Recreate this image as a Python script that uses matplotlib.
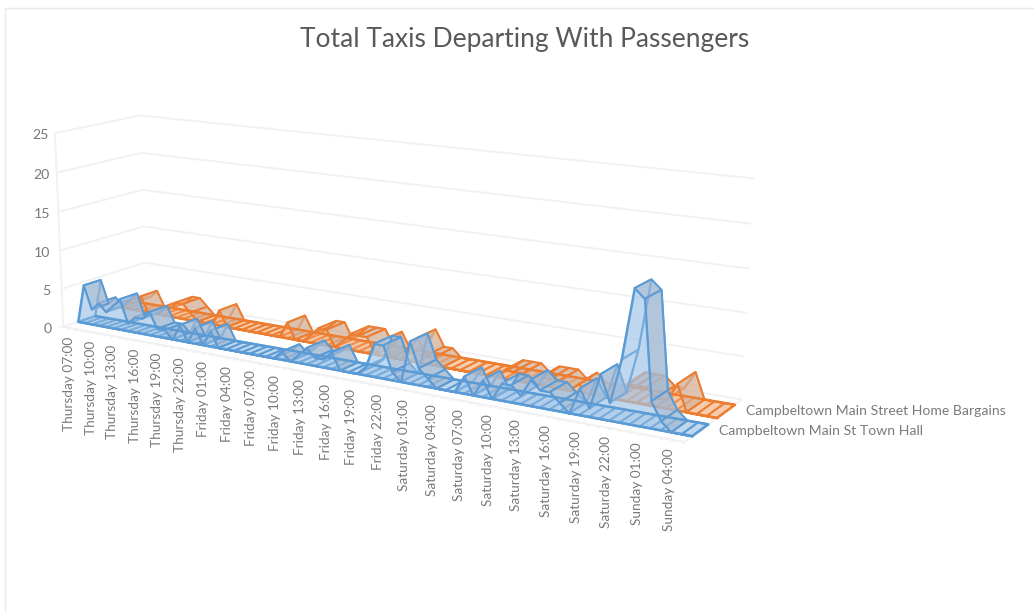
import numpy as np
import matplotlib
matplotlib.use("Agg")
import matplotlib.pyplot as plt
from matplotlib.patches import Rectangle
from mpl_toolkits.mplot3d.art3d import Poly3DCollection, Line3DCollection

TITLE = "Total Taxis Departing With Passengers"
SERIES_FRONT = "Campbeltown Main St Town Hall"
SERIES_BACK = "Campbeltown Main Street Home Bargains"
HOUR_LABELS = ["Thursday 07:00","Thursday 10:00","Thursday 13:00","Thursday 16:00","Thursday 19:00","Thursday 22:00",
               "Friday 01:00","Friday 04:00","Friday 07:00","Friday 10:00","Friday 13:00","Friday 16:00","Friday 19:00","Friday 22:00",
               "Saturday 01:00","Saturday 04:00","Saturday 07:00","Saturday 10:00","Saturday 13:00","Saturday 16:00","Saturday 19:00","Saturday 22:00",
               "Sunday 01:00","Sunday 04:00"]
Y_TICKS = [0,5,10,15,20,25]
town_hall = [0,5,2,3,2,3,4,1,2,2,3,1,1,0,2,0,2,0,2,0,0,0,0,0,0,0,0,1,0,1,2,1,1,2,0,0,
             0,1,4,4,1,0,5,2,1,0,0,0,2,0,2,0,2,2,1,3,2,2,1,0,3,1,5,2,7,15,14,3,1,0,0,0]
home_bargains = [0,1,1,2,0,0,1,1,2,2,1,0,0,0,2,0,0,0,0,0,0,0,0,2,0,0,1,2,2,0,1,2,2,2,0,2,
                 0,0,1,3,1,1,0,0,0,0,0,0,0,1,1,1,0,1,1,1,0,1,0,0,0,1,2,2,2,1,1,3,0,0,0,0]

CLR_B, CLR_O = "#5B9BD5", "#ED7D31"
GREY = "#7A7A7A"
W, H_PX = 1034, 612
N = len(town_hall)

# camera calibration: (category, depth, value) <-> pixel
CAL = [((0,0,0),(63,327)),((0,0,25),(55,133)),((0,1,25),(140,116)),((0,1,0),(146,298)),
       ((71,1,25),(754,178)),((71,1,0),(742,400)),((71,0,0),(684,442)),((36,0,0),(346,379))]
A, b = [], []
for (x,y,z),(u,v) in CAL:
    A.append([x,y,z,1,0,0,0,0,-u*x,-u*y,-u*z]); b.append(u)
    A.append([0,0,0,0,x,y,z,1,-v*x,-v*y,-v*z]); b.append(v)
p = np.linalg.lstsq(np.array(A,float),np.array(b,float),rcond=None)[0]
HM = np.array([[p[0],p[1],p[2],p[3]],[p[4],p[5],p[6],p[7]],[0,1,0,0],[p[8],p[9],p[10],1.0]])

def px(x,y,z):
    q = HM @ np.array([x,y,z,1.0])
    return q[0]/q[3], q[1]/q[3]

fig = plt.figure(figsize=(W/100,H_PX/100),dpi=100,facecolor="white")
ax = fig.add_axes([0,0,1,1],projection="3d",computed_zorder=False)
ax.set_axis_off()
ax.patch.set_visible(False)

def get_proj():
    D = ax.transData.inverted().get_matrix()
    V = np.array([[D[0,0],0,0,D[0,2]],
                  [0,-D[1,1],0,D[1,1]*H_PX+D[1,2]],
                  [0,0,1,0],
                  [0,0,0,1]],float)
    return V @ HM
ax.get_proj = get_proj

def lines(segs,color,lw,z):
    c = Line3DCollection(segs,colors=color,linewidths=lw,zorder=z)
    c.set_clip_on(False); ax.add_collection3d(c,autolim=False)

def polys(vs,fc,ec,lw,z):
    c = Poly3DCollection(vs,facecolors=fc,edgecolors=ec,linewidths=lw,zorder=z)
    c.set_clip_on(False); ax.add_collection3d(c,autolim=False)

# walls
GRID = "#F1F1F1"
segs = []
for t_ in Y_TICKS:
    segs.append([(0,0,t_),(0,1,t_)]); segs.append([(0,1,t_),(N-1,1,t_)])
segs.append([(0,0,0),(0,0,25)])
segs.append([(0,0,0),(N-1,0,0)]); segs.append([(N-1,0,0),(N-1,1,0)])
for i in range(N):
    segs.append([(i,0,0),(i,-0.035,0)])
lines(segs,GRID,1.4,1)

def ribbon(vals,vl,vr,clr,flat,up,down,side,z):
    f = np.arange(N)/(N-1)
    d0 = vl[0]+(vr[0]-vl[0])*f
    d1 = vl[1]+(vr[1]-vl[1])*f
    xs = np.arange(N)
    polys([[(i,d0[i],0),(i+1,d0[i+1],0),(i+1,d1[i+1],0),(i,d1[i],0)] for i in range(N-1)],flat,clr,1.4,z)
    polys([[(x,d1[x],a) for x,a in zip(xs,vals)]+[(N-1,d1[-1],0),(0,d1[0],0)]],side,clr,1.0,z+1)
    polys([[(0,d0[0],0),(0,d1[0],0),(0,d1[0],vals[0]),(0,d0[0],vals[0])]],side,clr,1.0,z+1)
    ups,dns,fl = [],[],[]
    for i in range(N-1):
        if vals[i]==0 and vals[i+1]==0:
            continue
        q = [(i,d0[i],vals[i]),(i+1,d0[i+1],vals[i+1]),(i+1,d1[i+1],vals[i+1]),(i,d1[i],vals[i])]
        if vals[i+1]>vals[i]: ups.append(q)
        elif vals[i+1]<vals[i]: dns.append(q)
        else: fl.append(q)
    polys(fl,down,clr,1.4,z+2)
    polys(ups,up,clr,1.4,z+2)
    polys(dns,down,clr,1.4,z+2)
    polys([[(x,d0[x],a) for x,a in zip(xs,vals)]+[(N-1,d0[-1],0),(0,d0[0],0)]],side,clr,1.4,z+3)
    lines([[(i,d0[i],0),(i+1,d0[i+1],0)] for i in range(N-1)]+
          [[(i,d1[i],0),(i+1,d1[i+1],0)] for i in range(N-1)]+
          [[(N-1,d0[-1],0),(N-1,d1[-1],0)]],clr,1.8,z+4)

ribbon(home_bargains,(0.68,0.88),(0.55,0.87),CLR_O,(0.97,0.78,0.64,0.9),(0.96,0.80,0.68,0.55),(0.82,0.70,0.62,0.7),(0.95,0.72,0.55,0.3),10)
ribbon(town_hall,(0.17,0.37),(0.13,0.40),CLR_B,(0.72,0.83,0.93,0.9),(0.72,0.83,0.94,0.55),(0.64,0.72,0.82,0.7),(0.62,0.77,0.91,0.42),20)

# text
def t(x,y,s,**k):
    return fig.text(x/W,1-y/H_PX,s,color=GREY,family=["Lato","DejaVu Sans"],**k)

fig.text(525/W,1-39.5/H_PX,TITLE,color="#595959",family=["Lato","DejaVu Sans"],fontsize=19,ha="center",va="center")
for k,lab in enumerate(HOUR_LABELS):
    x,y = px(3*k,0,0)
    t(x+6,y+10,lab,fontsize=9.8,rotation=90,ha="center",va="top")
for v in Y_TICKS:
    x,y = px(0,0,v)
    t(x-12+6*v/25,y+2,str(v),fontsize=10.2,ha="right",va="center")
x,y = px(N-1,0.87,0)
t(x+11,y+6,SERIES_BACK,fontsize=10.1,ha="left",va="center")
x,y = px(N-1,0.40,0)
t(x+11,y+7,SERIES_FRONT,fontsize=10.1,ha="left",va="center")

fig.add_artist(Rectangle((5/W,-0.01),1.1,1-8/H_PX+0.01,transform=fig.transFigure,fill=False,ec="#EAEAEA",lw=1))
fig.savefig("out.png",dpi=100,facecolor="white")
